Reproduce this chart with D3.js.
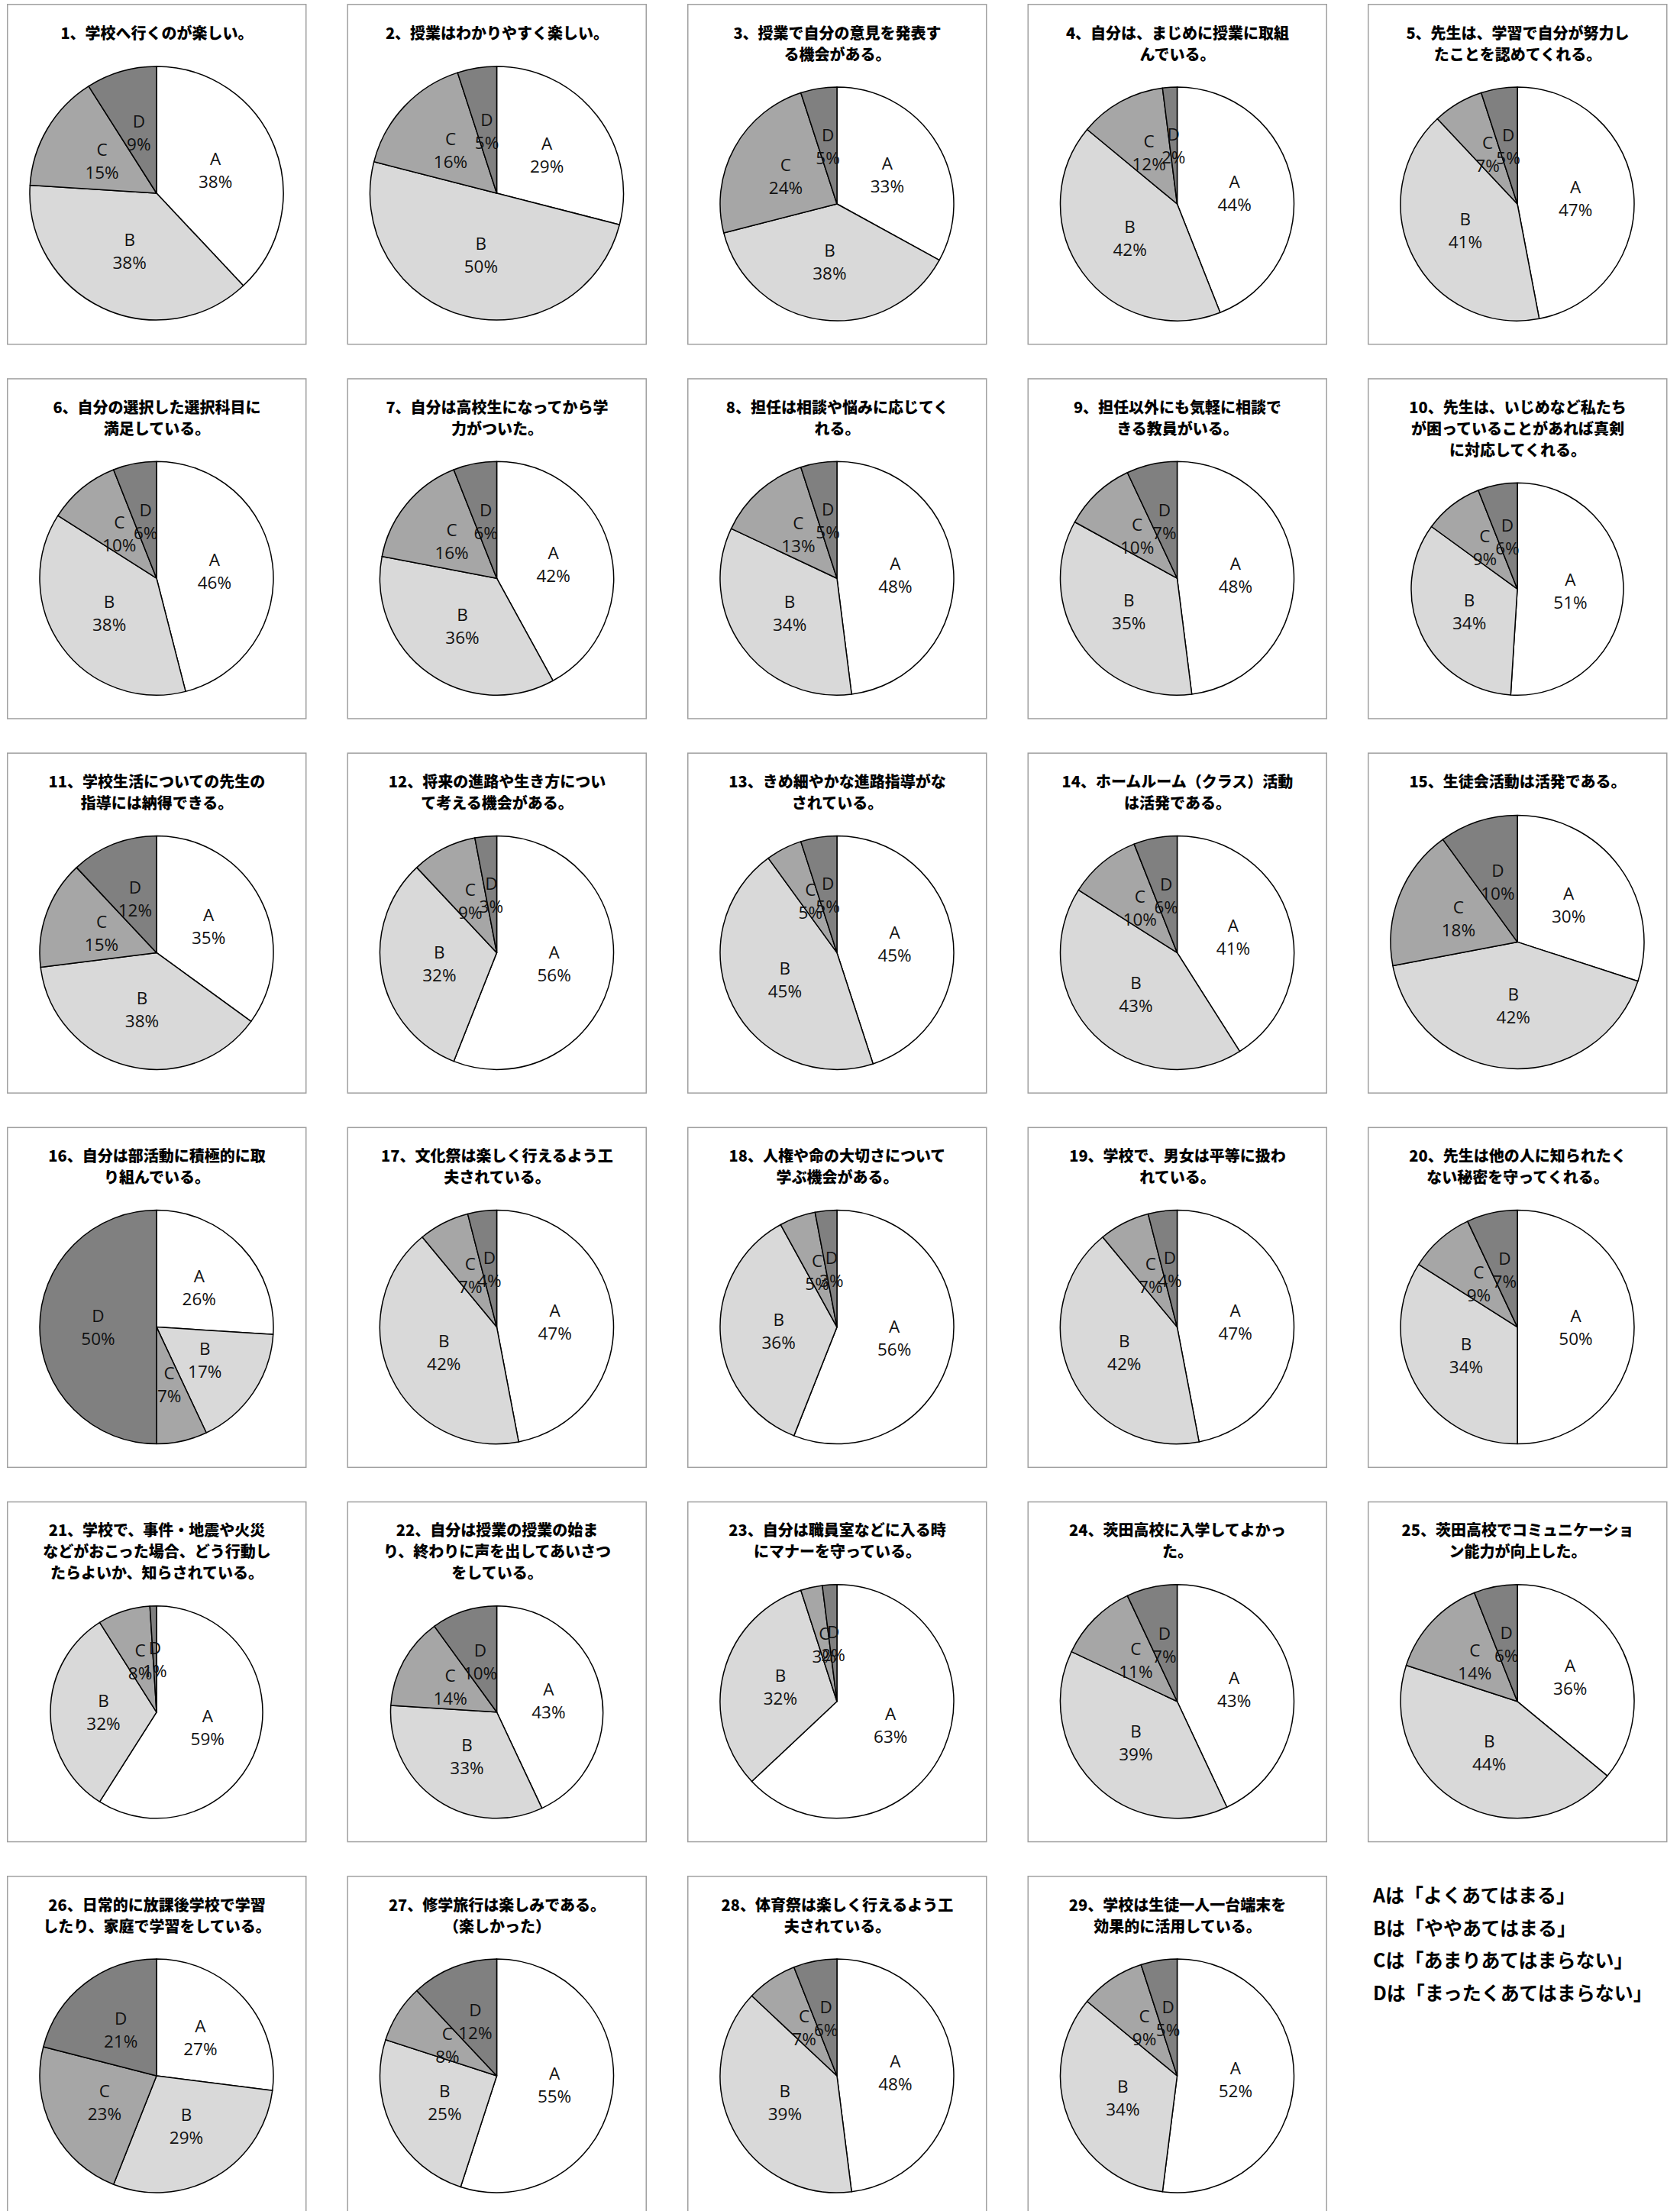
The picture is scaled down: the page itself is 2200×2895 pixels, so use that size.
<!DOCTYPE html>
<html lang="ja">
<head>
<meta charset="utf-8">
<title>学校教育自己診断 集計</title>
<script src="https://cdn.jsdelivr.net/npm/d3@7"></script>
<style>
  html, body { margin: 0; padding: 0; background: #fff; }
  #chart { width: 2200px; height: 2895px; }
</style>
</head>
<body>
<div id="chart"></div>
<script>
// 回答の区分
const categories = ["A", "B", "C", "D"];

// 設問タイトル（改行は元の図の通り）
const titles = [
  ["1、学校へ行くのが楽しい。"],
  ["2、授業はわかりやすく楽しい。"],
  ["3、授業で自分の意見を発表す", "る機会がある。"],
  ["4、自分は、まじめに授業に取組", "んでいる。"],
  ["5、先生は、学習で自分が努力し", "たことを認めてくれる。"],
  ["6、自分の選択した選択科目に", "満足している。"],
  ["7、自分は高校生になってから学", "力がついた。"],
  ["8、担任は相談や悩みに応じてく", "れる。"],
  ["9、担任以外にも気軽に相談で", "きる教員がいる。"],
  ["10、先生は、いじめなど私たち", "が困っていることがあれば真剣", "に対応してくれる。"],
  ["11、学校生活についての先生の", "指導には納得できる。"],
  ["12、将来の進路や生き方につい", "て考える機会がある。"],
  ["13、きめ細やかな進路指導がな", "されている。"],
  ["14、ホームルーム（クラス）活動", "は活発である。"],
  ["15、生徒会活動は活発である。"],
  ["16、自分は部活動に積極的に取", "り組んでいる。"],
  ["17、文化祭は楽しく行えるよう工", "夫されている。"],
  ["18、人権や命の大切さについて", "学ぶ機会がある。"],
  ["19、学校で、男女は平等に扱わ", "れている。"],
  ["20、先生は他の人に知られたく", "ない秘密を守ってくれる。"],
  ["21、学校で、事件・地震や火災", "などがおこった場合、どう行動し", "たらよいか、知らされている。"],
  ["22、自分は授業の授業の始ま", "り、終わりに声を出してあいさつ", "をしている。"],
  ["23、自分は職員室などに入る時", "にマナーを守っている。"],
  ["24、茨田高校に入学してよかっ", "た。"],
  ["25、茨田高校でコミュニケーショ", "ン能力が向上した。"],
  ["26、日常的に放課後学校で学習", "したり、家庭で学習をしている。"],
  ["27、修学旅行は楽しみである。", "（楽しかった）"],
  ["28、体育祭は楽しく行えるよう工", "夫されている。"],
  ["29、学校は生徒一人一台端末を", "効果的に活用している。"]
];

// 各設問の割合（%）
const shareA = [38, 29, 33, 44, 47, 46, 42, 48, 48, 51, 35, 56, 45, 41, 30, 26, 47, 56, 47, 50, 59, 43, 63, 43, 36, 27, 55, 48, 52];
const shareB = [38, 50, 38, 42, 41, 38, 36, 34, 35, 34, 38, 32, 45, 43, 42, 17, 42, 36, 42, 34, 32, 33, 32, 39, 44, 29, 25, 39, 34];
const shareC = [15, 16, 24, 12, 7, 10, 16, 13, 10, 9, 15, 9, 5, 10, 18, 7, 7, 5, 7, 9, 8, 14, 3, 11, 14, 23, 8, 7, 9];
const shareD = [9, 5, 5, 2, 5, 6, 6, 5, 7, 6, 12, 3, 5, 6, 10, 50, 4, 3, 4, 7, 1, 10, 2, 7, 6, 21, 12, 6, 5];

// 凡例
const legendLines = [
  "Aは「よくあてはまる」",
  "Bは「ややあてはまる」",
  "Cは「あまりあてはまらない」",
  "Dは「まったくあてはまらない」"
];

(() => {
  const width = 2200, height = 2895;
  const fills = { A: "#ffffff", B: "#d9d9d9", C: "#a6a6a6", D: "#808080" };

  // パネル配置
  const panelW = 391, panelH = 445;
  const colX = (i) => 9 + i * 445.5;
  const rowY = (i) => 5 + i * 490.2;
  // タイトル行数ごとの円の位置と半径（Excelのプロットエリアに合わせる）
  const pieLayout = { 1: { cy: 248, r: 166 }, 2: { cy: 262, r: 153 }, 3: { cy: 276, r: 139 } };

  const svg = d3.select("#chart")
    .append("svg")
    .attr("width", width)
    .attr("height", height)
    .attr("viewBox", `0 0 ${width} ${height}`);

  svg.append("rect")
    .attr("width", width)
    .attr("height", height)
    .attr("fill", "#fff");

  const questions = titles.map((t, i) => ({
    title: t,
    values: [shareA[i], shareB[i], shareC[i], shareD[i]]
  }));

  const pie = d3.pie().sort(null).value(d => d.value);

  const panels = svg.selectAll("g.panel")
    .data(questions)
    .enter()
    .append("g")
    .attr("class", "panel")
    .attr("transform", (d, i) => `translate(${colX(i % 5)},${rowY(Math.floor(i / 5))})`);

  panels.append("rect")
    .attr("x", 0.75)
    .attr("y", 0.75)
    .attr("width", panelW)
    .attr("height", panelH)
    .attr("fill", "#fff")
    .attr("stroke", "#a0a0a0")
    .attr("stroke-width", 1.5);

  panels.each(function (q) {
    const g = d3.select(this);
    const lay = pieLayout[q.title.length];

    // タイトル
    g.append("text")
      .attr("text-anchor", "middle")
      .attr("font-family", "'Noto Sans CJK JP', sans-serif")
      .attr("font-weight", 900)
      .attr("font-size", 20)
      .attr("fill", "#000")
      .selectAll("tspan")
      .data(q.title)
      .enter()
      .append("tspan")
      .attr("x", panelW / 2 + 1)
      .attr("y", (d, j) => 37 + j * 28)
      .attr("dominant-baseline", "central")
      .text(d => d);

    const arc = d3.arc().innerRadius(0).outerRadius(lay.r);
    const slices = pie(q.values.map((v, k) => ({ key: categories[k], value: v })));

    const pg = g.append("g")
      .attr("transform", `translate(${panelW / 2 + 0.5},${lay.cy})`);

    pg.selectAll("path")
      .data(slices)
      .enter()
      .append("path")
      .attr("d", arc)
      .attr("fill", d => fills[d.data.key])
      .attr("stroke", "#000")
      .attr("stroke-width", 1.5)
      .attr("stroke-linejoin", "round");

    // ラベル（区分名と割合）— 小さい扇形では元の図と同じく重なる
    const lab = pg.selectAll("text")
      .data(slices)
      .enter()
      .append("text")
      .attr("transform", d => `translate(${arc.centroid(d)})`)
      .attr("text-anchor", "middle")
      .attr("font-family", "'Open Sans', sans-serif")
      .attr("font-size", 22.5)
      .attr("fill", "#111");

    lab.append("tspan")
      .attr("x", 0)
      .attr("y", -15)
      .attr("dominant-baseline", "central")
      .text(d => d.data.key);

    lab.append("tspan")
      .attr("x", 0)
      .attr("y", 15)
      .attr("dominant-baseline", "central")
      .text(d => `${d.data.value}%`);
  });

  // 凡例
  svg.append("g")
    .selectAll("text")
    .data(legendLines)
    .enter()
    .append("text")
    .attr("x", 1798)
    .attr("y", (d, i) => 2480 + i * 42.7)
    .attr("dominant-baseline", "central")
    .attr("font-family", "'Noto Sans CJK JP', sans-serif")
    .attr("font-weight", 700)
    .attr("font-size", 25)
    .attr("fill", "#000")
    .text(d => d);
})();
</script>
</body>
</html>
